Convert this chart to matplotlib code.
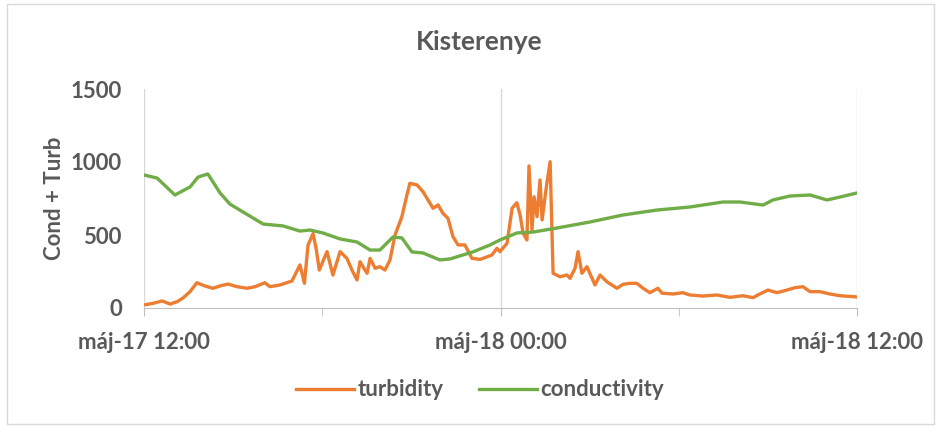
import pandas as pd
import matplotlib
matplotlib.use("Agg")
import matplotlib.pyplot as plt
import matplotlib.dates as mdates
from matplotlib.patches import Rectangle

# hours after máj-17 12:00
turb_hours = [0.0, 0.30, 0.61, 0.88, 1.11, 1.31, 1.55, 1.78, 2.05, 2.32, 2.56, 2.83, 3.13,
              3.47, 3.74, 4.07, 4.24, 4.58, 4.98, 5.25, 5.40, 5.52, 5.69, 5.80, 5.90, 6.16,
              6.36, 6.60, 6.83, 7.00, 7.17, 7.27, 7.44, 7.51, 7.61, 7.78, 7.94, 8.11, 8.28,
              8.45, 8.68, 8.85, 8.95, 9.19, 9.39, 9.73, 9.90, 10.06, 10.23, 10.40, 10.57,
              10.80, 11.04, 11.31, 11.41, 11.71, 11.88, 11.98, 12.22, 12.39, 12.55, 12.66,
              12.76, 12.89, 12.96, 13.06, 13.13, 13.23, 13.33, 13.40, 13.56, 13.67, 13.77,
              14.00, 14.24, 14.34, 14.51, 14.61, 14.74, 14.91, 15.18, 15.35, 15.58, 15.92,
              16.12, 16.36, 16.59, 16.80, 17.03, 17.30, 17.44, 17.81, 18.14, 18.38, 18.81,
              19.29, 19.72, 20.16, 20.50, 20.73, 21.00, 21.31, 21.64, 21.91, 22.18, 22.42,
              22.75, 23.09, 23.43, 23.93, 24.0]
turbidity = [21, 32, 48, 27, 43, 68, 112, 173, 151, 135, 151, 164, 146,
             135, 146, 173, 146, 158, 185, 295, 169, 430, 510, 400, 260, 386,
             226, 386, 340, 260, 192, 317, 260, 238, 340, 272, 283, 260, 329,
             500, 625, 774, 854, 843, 797, 683, 706, 649, 615, 489, 432,
             432, 340, 333, 340, 363, 409, 386, 443, 683, 721, 637,
             512, 466, 973, 534, 762, 625, 877, 603, 854, 1002, 238,
             214, 226, 203, 272, 386, 238, 283, 158, 226, 180, 135,
             162, 169, 169, 135, 105, 135, 101, 96, 105, 89, 82,
             89, 73, 84, 71, 96, 123, 105, 123, 139, 146, 112,
             112, 96, 84, 77, 75]

cond_hours = [0.0, 0.44, 1.04, 1.55, 1.82, 2.15, 2.56, 2.89, 3.33, 4.01, 4.68, 5.25, 5.59,
              6.02, 6.60, 7.17, 7.61, 7.94, 8.38, 8.68, 9.02, 9.39, 9.96, 10.30, 11.07,
              11.65, 11.98, 12.55, 13.09, 13.90, 15.01, 16.12, 17.27, 18.38, 19.49, 20.06,
              20.84, 21.17, 21.74, 22.42, 22.99, 23.43, 24.0]
conductivity = [911, 890, 774, 829, 897, 918, 788, 712, 658, 575, 562, 527, 534,
                514, 473, 452, 397, 397, 486, 480, 384, 377, 329, 336, 384,
                432, 466, 514, 520, 548, 589, 637, 671, 692, 726, 726,
                705, 740, 767, 774, 740, 760, 788]

start = pd.Timestamp("2018-05-17 12:00")
t_turb = start + pd.to_timedelta(turb_hours, unit="h")
t_cond = start + pd.to_timedelta(cond_hours, unit="h")

plt.rcParams["font.family"] = ["Lato", "DejaVu Sans"]
grey = "#595959"
fs = 16

fig = plt.figure(figsize=(9.36, 4.26), dpi=100)
ax = fig.add_axes([144 / 936, 1 - 308 / 426, 713 / 936, 219 / 426])

ax.plot(t_turb, turbidity, color="#ED7D31", lw=2.4, label="turbidity")
ax.plot(t_cond, conductivity, color="#70AD47", lw=2.4, label="conductivity")

ax.set_xlim(start, start + pd.Timedelta(hours=24))
ax.set_ylim(0, 1500)
ax.set_yticks([0, 500, 1000, 1500])

ax.xaxis.set_major_locator(mdates.HourLocator(byhour=[0, 12]))
ax.xaxis.set_minor_locator(mdates.HourLocator(byhour=[6, 18]))
ax.xaxis.set_major_formatter(mdates.DateFormatter("máj-%d %H:%M"))
ax.grid(axis="x", which="major", color="#D9D9D9", lw=1)

for s in ["top", "right", "left"]:
    ax.spines[s].set_visible(False)
ax.spines["bottom"].set_color("#BFBFBF")
ax.tick_params(axis="x", which="both", direction="out", length=6, color="#BFBFBF")
ax.tick_params(axis="x", which="major", pad=11, labelsize=fs, labelcolor=grey)
ax.tick_params(axis="y", length=0, pad=16, labelsize=fs, labelcolor=grey)
for lab in ax.get_xticklabels() + ax.get_yticklabels():
    lab.set_fontweight("bold")

ax.set_ylabel("Cond + Turb", fontsize=fs, fontweight="bold", color=grey, labelpad=4)
fig.text(0.512, 1 - 42 / 426, "Kisterenye", ha="center", va="center",
         fontsize=19, fontweight="bold", color=grey)

leg = fig.legend(loc="center", bbox_to_anchor=(0.513, 1 - 390 / 426), ncol=2,
                 frameon=False, prop={"size": fs, "weight": "bold"},
                 handlelength=2.6, handletextpad=0.15, columnspacing=1.6)
for txt in leg.get_texts():
    txt.set_color(grey)

fig.patches.append(Rectangle((7 / 936, 2 / 426), 927 / 936, 420 / 426,
                             transform=fig.transFigure, fill=False,
                             edgecolor="#D9D9D9", lw=1))

fig.savefig("out.png", dpi=100)
